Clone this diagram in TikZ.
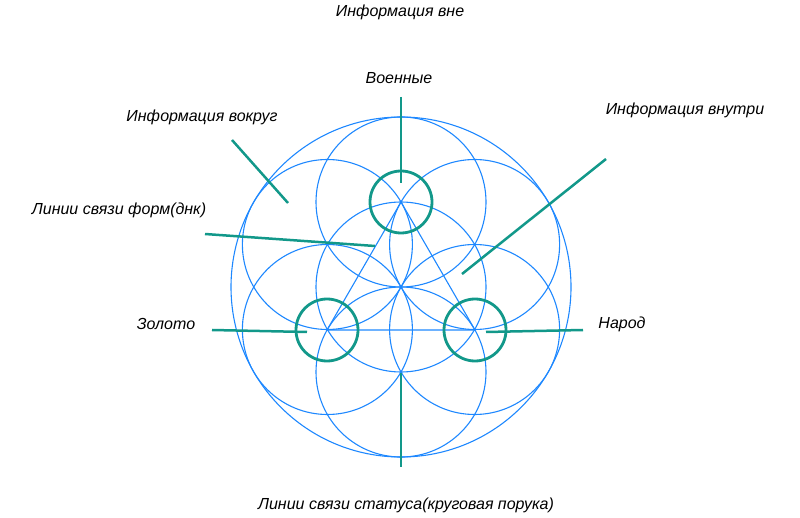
\documentclass[tikz,border=0pt]{standalone}
\usepackage{fontspec}
\setmainfont{Liberation Sans}
\begin{document}
\begin{tikzpicture}[x=1pt,y=-1pt,
  bl/.style={draw=blueC,line width=1.1pt},
  tl/.style={draw=tealC,line width=2.8pt},
  lab/.style={font=\itshape\fontsize{16}{18}\selectfont,inner sep=0pt}]
\definecolor{blueC}{RGB}{30,136,255}
\definecolor{tealC}{RGB}{18,152,138}
\useasboundingbox (0,0) rectangle (800,518);
\coordinate (C) at (401,287);
\draw[bl] (C) circle (170);
\draw[bl] (C) circle (85);
\foreach \a in {90,150,210,270,330,30}{\draw[bl] ([shift={(\a:85)}]C) circle (85);}
\coordinate (T) at (401,202);
\coordinate (L) at (327,330);
\coordinate (R) at (475,330);
\draw[bl] (T) -- (L) -- (R) -- cycle;
\foreach \p in {T,L,R}{\draw[tl] (\p) circle (31);}
\node[lab] (vne) at (400,12) {Информация вне};
\node[lab] (voen) at (399,78) {Военные};
\node[lab] (vokr) at (202,117) {Информация вокруг};
\node[lab] (vnut) at (685,110) {Информация внутри};
\node[lab] (dnk) at (119,210) {Линии связи форм(днк)};
\node[lab] (zol) at (166,324) {Золото};
\node[lab] (nar) at (622,324) {Народ};
\node[lab] (stat) at (406,505) {Линии связи статуса(круговая порука)};
\coordinate (a1) at (401,97); \coordinate (a2) at (401,183);
\coordinate (b1) at (401,373); \coordinate (b2) at (401,467);
\coordinate (c1) at (212,330); \coordinate (c2) at (307,332);
\coordinate (d1) at (486,332); \coordinate (d2) at (583,330);
\coordinate (e1) at (232,140); \coordinate (e2) at (288,203);
\coordinate (f1) at (205,234); \coordinate (f2) at (375,246);
\coordinate (g1) at (606,159); \coordinate (g2) at (462,274);
\foreach \u/\v in {a1/a2,b1/b2,c1/c2,d1/d2,e1/e2,f1/f2,g1/g2}{\draw[tl,line width=2.5pt] (\u)--(\v);}
\end{tikzpicture}
\end{document}
